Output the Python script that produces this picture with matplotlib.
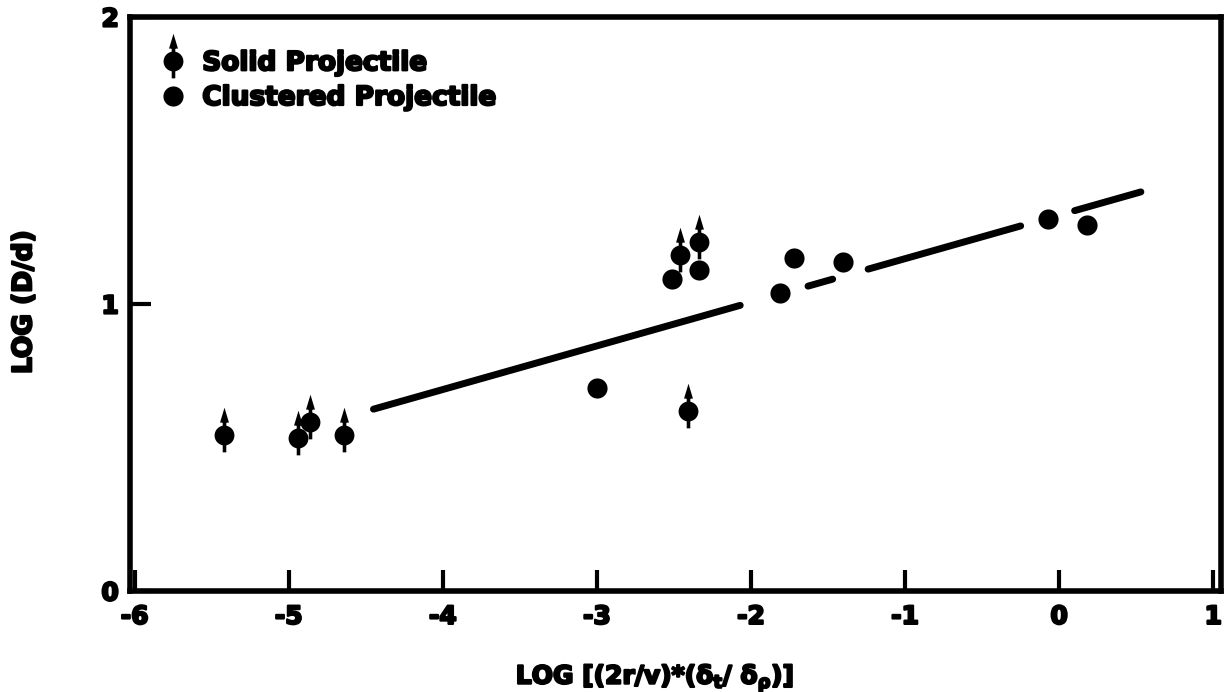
import numpy as np
import matplotlib
matplotlib.use("Agg")
import matplotlib.pyplot as plt
import matplotlib.patheffects as pe
from matplotlib.path import Path
from matplotlib.lines import Line2D

# donnees
solid_x = [-5.42, -4.94, -4.86, -4.64, -2.46, -2.34, -2.41]
solid_y = [0.543, 0.533, 0.59, 0.543, 1.17, 1.216, 0.627]
clust_x = [-3.00, -2.51, -2.34, -1.81, -1.72, -1.40, -0.07, 0.18]
clust_y = [0.707, 1.087, 1.118, 1.038, 1.16, 1.146, 1.296, 1.275]

# droite de regression, tracee par morceaux
fit_slope = 0.152
fit_intercept = 1.31
fit_pieces = [(-4.45, -2.07), (-1.63, -1.47), (-1.24, -0.25), (0.10, 0.53)]

xticks = [-6, -5, -4, -3, -2, -1, 0, 1]
yticks = [0, 1, 2]

plt.rcParams['font.family'] = 'DejaVu Sans'
plt.rcParams['font.weight'] = 'bold'
plt.rcParams['axes.labelweight'] = 'bold'
plt.rcParams['mathtext.fontset'] = 'dejavusans'
plt.rcParams['mathtext.default'] = 'bf'

# trait epais pour imiter l'impression grasse
gras = [pe.withStroke(linewidth=1.6, foreground='black')]


def solid_marker():
	# cercle + tige + pointe de fleche (en pixels, centre = point)
	circ = Path.circle((0, 0), 10)
	w = 1.8
	stem = Path([(-w, -17), (w, -17), (w, 16), (-w, 16), (-w, -17)], closed=True)
	tip = Path([(-4.5, 13), (4.5, 13), (0, 28), (-4.5, 13)], closed=True)
	return Path.make_compound_path(circ, stem, tip)


fig = plt.figure(figsize=(12.28, 6.92), dpi=100)
ax = fig.add_axes([130 / 1228, 101 / 692, 1091 / 1228, 574 / 692])

mk = solid_marker()
ax.plot(solid_x, solid_y, ls='none', marker=mk, ms=40, color='black', mew=0)
ax.plot(clust_x, clust_y, ls='none', marker='o', ms=14.5, color='black', mew=0)

for a, b in fit_pieces:
	xs = np.array([a, b])
	ax.plot(xs, fit_intercept + fit_slope * xs, color='black', lw=5, solid_capstyle='round')

ax.set_xlim(-6.03, 1.05)
ax.set_ylim(0, 2)
ax.set_xticks(xticks)
ax.set_yticks(yticks)
ax.set_xticklabels([str(t) for t in xticks])
ax.set_yticklabels([str(t) for t in yticks])
ax.tick_params(direction='in', length=15, width=3, labelsize=18, pad=10)
ax.tick_params(axis='y', pad=8)
for s in ax.spines.values():
	s.set_linewidth(4)
for t in ax.get_xticklabels() + ax.get_yticklabels():
	t.set_path_effects(gras)

ax.set_xlabel(r'LOG [(2r/v)*($\delta_t$/ $\delta_\rho$)]', fontsize=18, path_effects=gras)
ax.xaxis.set_label_coords(0.481, -0.124)
ax.set_ylabel('LOG (D/d)', fontsize=19, path_effects=gras)
ax.yaxis.set_label_coords(-0.085, 0.503)

h1 = Line2D([], [], ls='none', marker=mk, ms=40, color='black', mew=0)
h2 = Line2D([], [], ls='none', marker='o', ms=14.5, color='black', mew=0)
leg = ax.legend([h1, h2], ['Solid Projectile', 'Clustered Projectile'], loc='upper left',
	bbox_to_anchor=(0.0275, 0.942), frameon=False, fontsize=19, handlelength=1.0,
	handletextpad=0.6, labelspacing=0.33, borderaxespad=0, borderpad=0)
for t in leg.get_texts():
	t.set_path_effects(gras)

fig.savefig("out.png", dpi=100)
